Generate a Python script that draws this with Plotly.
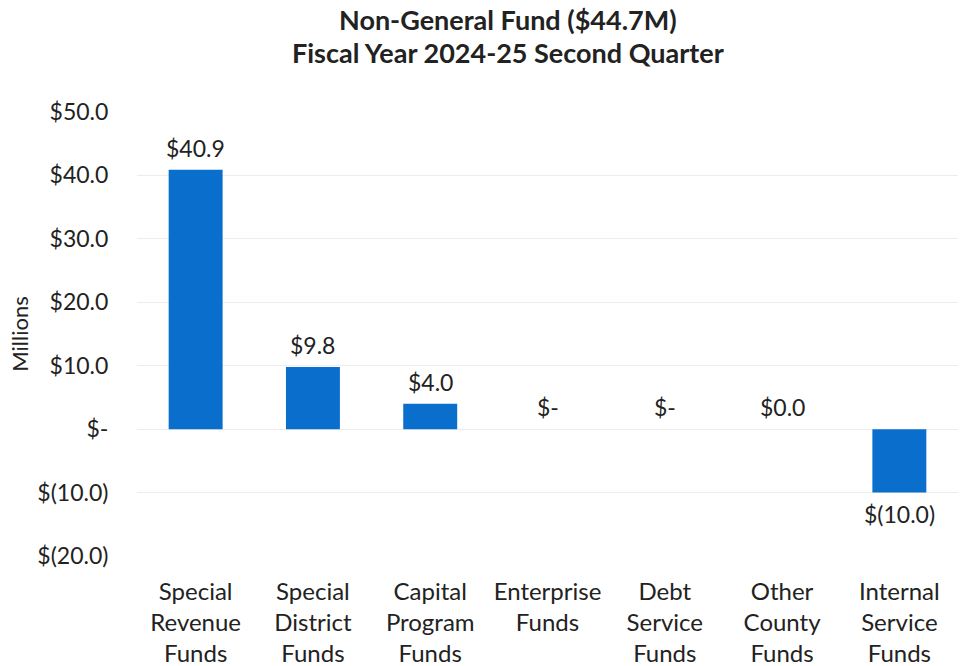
import plotly.graph_objects as go

categories = [
    "Special<br>Revenue<br>Funds",
    "Special<br>District<br>Funds",
    "Capital<br>Program<br>Funds",
    "Enterprise<br>Funds<br> ",
    "Debt<br>Service<br>Funds",
    "Other<br>County<br>Funds",
    "Internal<br>Service<br>Funds",
]
values = [40.9, 9.8, 4.0, 0.0, 0.0, 0.0, -10.0]
value_labels = ["$40.9", "$9.8", "$4.0", "$-", "$-", "$0.0", "$(10.0)"]
y_tickvals = [50, 40, 30, 20, 10, 0, -10, -20]
y_ticktext = ["$50.0", "$40.0", "$30.0", "$20.0", "$10.0", "$-", "$(10.0)", "$(20.0)"]
title_lines = ["Non-General Fund ($44.7M)", "Fiscal Year 2024-25 Second Quarter"]

FONT = "Lato"
TXT = "#222222"
BAR = "#0a6fcc"

W, H = 960, 666
ML, MR, MT, MB = 137, 2, 112, 110
PW, PH = W - ML - MR, H - MT - MB

fig = go.Figure()
fig.add_trace(go.Bar(x=categories, y=values, marker=dict(color=BAR, line=dict(width=0)),
                     hoverinfo="skip"))

for c, v, t in zip(categories, values, value_labels):
    fig.add_annotation(x=c, y=v, text=t, showarrow=False,
                       yanchor="bottom" if v >= 0 else "top",
                       yshift=6 if v >= 0 else -5,
                       font=dict(family=FONT, size=23, color=TXT))

# title lines (pixel centres converted to paper coordinates)
for line, yc in zip(title_lines, [19, 52]):
    fig.add_annotation(text="<b>" + line + "</b>", showarrow=False,
                       xref="paper", yref="paper",
                       x=(508 - ML) / PW, y=(MT + PH - yc) / PH,
                       xanchor="center", yanchor="middle",
                       font=dict(family=FONT, size=27, color=TXT))

fig.update_layout(
    width=W, height=H,
    paper_bgcolor="white", plot_bgcolor="white",
    margin=dict(l=ML, r=MR, t=MT, b=MB, autoexpand=False),
    bargap=0.54,
    showlegend=False,
    hovermode=False,
    font=dict(family=FONT, color=TXT),
)
fig.update_xaxes(showgrid=False, showline=False, ticks="outside", ticklen=14,
                 tickcolor="rgba(0,0,0,0)", tickfont=dict(family=FONT, size=24, color=TXT),
                 tickangle=0, automargin=False)
fig.update_yaxes(range=[-20, 50], tickvals=y_tickvals, ticktext=y_ticktext,
                 showgrid=True, gridcolor="#ececec", gridwidth=1, zeroline=False,
                 showline=False, ticks="outside", ticklen=23, tickcolor="rgba(0,0,0,0)",
                 tickfont=dict(family=FONT, size=23, color=TXT), automargin=False,
                 title=dict(text="Millions", font=dict(family=FONT, size=22, color=TXT), standoff=2))

fig.write_html("out.html", config={"displayModeBar": False},
               post_script="document.body.style.margin='0';document.body.style.overflow='hidden';")
